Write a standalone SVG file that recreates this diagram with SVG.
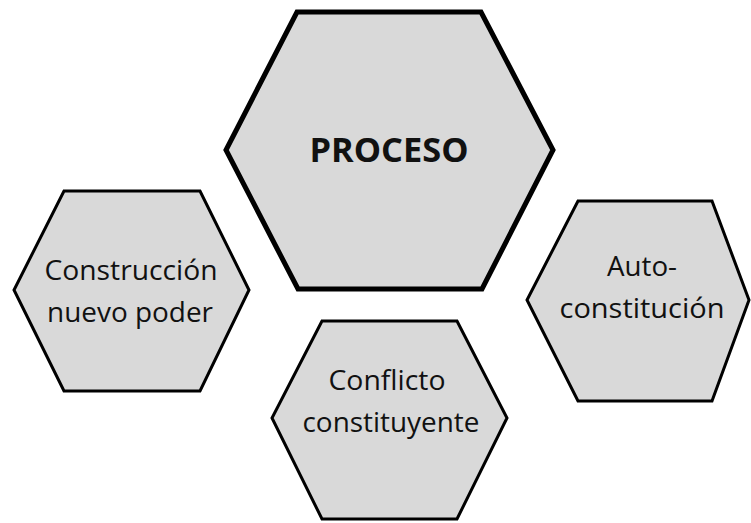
<svg xmlns="http://www.w3.org/2000/svg" width="751" height="523" viewBox="0 0 751 523">
<style>
.hex{fill:#d9d9d9;stroke:#000;stroke-linejoin:miter}
.big{stroke-width:5}
.small{stroke-width:3}
text{font-family:"Open Sans","Liberation Sans",Arial,sans-serif;fill:#111;text-anchor:middle}
.t{font-size:27px}
.b{font-size:34px;font-weight:bold}
</style>
<rect width="751" height="523" fill="#fff"/>
<g id="proceso">
<polygon class="hex big" points="297,12 481,12 553,150 482,289 298,289 226,150"/>
<text class="b" x="389" y="162" textLength="159" lengthAdjust="spacingAndGlyphs">PROCESO</text>
</g>
<g id="construccion">
<polygon class="hex small" points="64,191 200,191 249,290 200,391 64,391 14,290"/>
<text class="t" x="131" y="280" textLength="173" lengthAdjust="spacingAndGlyphs">Construcción</text>
<text class="t" x="130" y="322" textLength="166" lengthAdjust="spacingAndGlyphs">nuevo poder</text>
</g>
<g id="autoconstitucion">
<polygon class="hex small" points="578,201 712,201 749,300 712,401 578,401 527,300"/>
<text class="t" x="642" y="276" textLength="70" lengthAdjust="spacingAndGlyphs">Auto-</text>
<text class="t" x="642" y="318" textLength="165" lengthAdjust="spacingAndGlyphs">constitución</text>
</g>
<g id="conflicto">
<polygon class="hex small" points="322,321 457,321 507,418 457,519 322,519 272,418"/>
<text class="t" x="387" y="390" textLength="117" lengthAdjust="spacingAndGlyphs">Conflicto</text>
<text class="t" x="391" y="432" textLength="177" lengthAdjust="spacingAndGlyphs">constituyente</text>
</g>
<g id="connectors"></g>
</svg>
